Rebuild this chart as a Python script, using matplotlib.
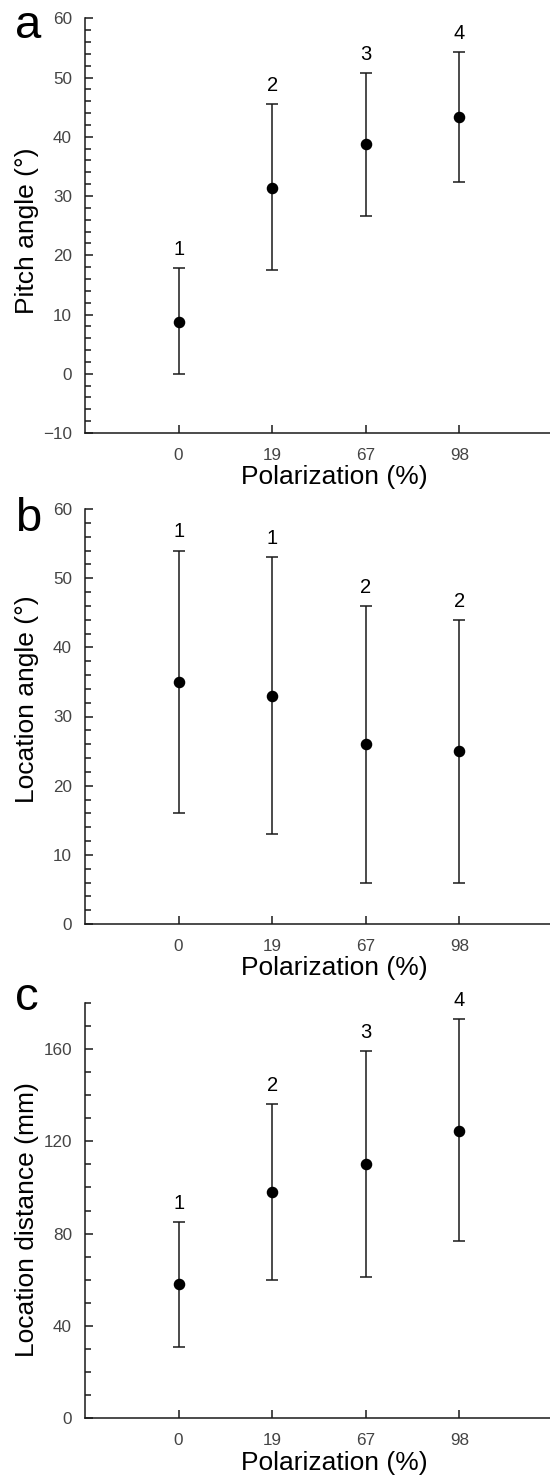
import matplotlib
matplotlib.use("Agg")
import matplotlib.pyplot as plt
from matplotlib.ticker import MultipleLocator
import numpy as np

plt.rcParams['font.family'] = ['Liberation Sans', 'DejaVu Sans']

# ---- data ----
polarization = ["0", "19", "67", "98"]

pitch_mean = [8.8, 31.4, 38.7, 43.3]
pitch_low = [0.0, 17.5, 26.7, 32.4]
pitch_high = [17.9, 45.5, 50.8, 54.3]
pitch_groups = ["1", "2", "3", "4"]

locang_mean = [35.0, 33.0, 26.0, 25.0]
locang_low = [16.0, 13.0, 6.0, 6.0]
locang_high = [54.0, 53.0, 46.0, 44.0]
locang_groups = ["1", "1", "2", "2"]

locdist_mean = [58.0, 98.0, 110.0, 124.5]
locdist_low = [31.0, 60.0, 61.0, 77.0]
locdist_high = [85.0, 136.0, 159.0, 173.0]
locdist_groups = ["1", "2", "3", "4"]

W, H = 550, 1477
fig = plt.figure(figsize=(W / 100, H / 100), dpi=100)

AX_LEFT = 85.0
AX_RIGHT = 553.0
AX_W = AX_RIGHT - AX_LEFT


def make_axes(top_px, bottom_px):
    return fig.add_axes([AX_LEFT / W, 1 - bottom_px / H,
                         AX_W / W, (bottom_px - top_px) / H])


panels = [
    dict(top=18.3, bottom=433.0, mean=pitch_mean, low=pitch_low, high=pitch_high,
         groups=pitch_groups, ylim=(-10, 60), major=10, minor=2,
         ylabel="Pitch angle (°)", ylab_y=0.487, letter="a", letter_base=37.5),
    dict(top=509.0, bottom=924.0, mean=locang_mean, low=locang_low, high=locang_high,
         groups=locang_groups, ylim=(0, 60), major=10, minor=2,
         ylabel="Location angle (°)", ylab_y=0.542, letter="b", letter_base=531),
    dict(top=1002.7, bottom=1418.3, mean=locdist_mean, low=locdist_low, high=locdist_high,
         groups=locdist_groups, ylim=(0, 180), major=40, minor=10,
         ylabel="Location distance (mm)", ylab_y=0.477, letter="c", letter_base=1010),
]

x = np.arange(len(polarization))
tick_col = "#444444"
line_col = "#1a1a1a"

for p in panels:
    ax = make_axes(p["top"], p["bottom"])
    mean = np.array(p["mean"])
    low = np.array(p["low"])
    high = np.array(p["high"])
    yerr = np.vstack([mean - low, high - mean])
    ax.errorbar(x, mean, yerr=yerr, fmt='o', color='black', ecolor=line_col,
                elinewidth=1.1, capsize=4.5, capthick=1.1, markersize=7.3,
                clip_on=False, zorder=3)
    for xi, hi, g in zip(x, high, p["groups"]):
        ax.annotate(g, xy=(xi, hi), xytext=(0, 6.5), textcoords='offset points',
                    ha='center', va='bottom', fontsize=14.5, color='black')
    ax.set_xlim(-1, 4)
    ax.set_ylim(*p["ylim"])
    ax.set_xticks(x)
    ax.set_xticklabels(polarization)
    ax.yaxis.set_major_locator(MultipleLocator(p["major"]))
    ax.yaxis.set_minor_locator(MultipleLocator(p["minor"]))
    for s in ("top", "right"):
        ax.spines[s].set_visible(False)
    for s in ("left", "bottom"):
        ax.spines[s].set_color(line_col)
        ax.spines[s].set_linewidth(1.1)
    ax.tick_params(axis='both', which='both', direction='in', colors=line_col,
                   labelcolor=tick_col, labelsize=12.3, width=1.1)
    ax.tick_params(axis='y', which='major', length=6, pad=9.3)
    ax.tick_params(axis='y', which='minor', length=4)
    ax.tick_params(axis='x', which='major', length=6, pad=10.5)
    ax.tick_params(axis='x', which='minor', bottom=False)
    ax.set_xlabel("Polarization (%)", fontsize=19, labelpad=2, color='black')
    ax.xaxis.label.set_x(0.532)
    ax.set_ylabel(p["ylabel"], fontsize=19, color='black')
    ax.yaxis.set_label_coords(-(AX_LEFT - 39.0) / AX_W, p["ylab_y"])
    fig.text(15.0 / W, 1 - p["letter_base"] / H, p["letter"], fontsize=34,
             fontweight='normal', ha='left', va='baseline', color='black')

fig.savefig("out.png", dpi=100)
